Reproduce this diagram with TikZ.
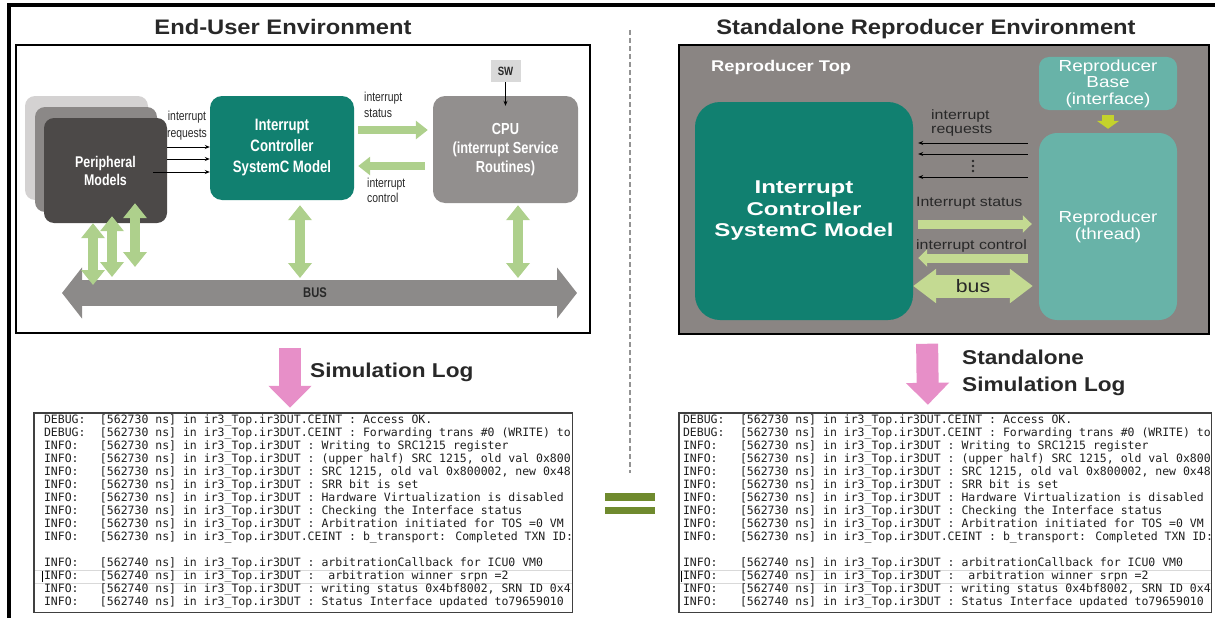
\documentclass[tikz,border=0pt]{standalone}
\usepackage{fontspec}
\setmainfont{Liberation Sans}
\newfontfamily\headfont[FakeStretch=1.13]{Liberation Sans}
\newfontfamily\condfont[FakeStretch=0.8]{Liberation Sans}
\newfontfamily\widefont[FakeStretch=1.18]{Liberation Sans}
\newfontfamily\modelfont[FakeStretch=1.3]{Liberation Sans}
\newfontfamily\logfont{DejaVu Sans Mono}
\usetikzlibrary{arrows.meta,calc}

\definecolor{icteal}{RGB}{17,128,112}
\definecolor{repteal}{RGB}{104,179,168}
\definecolor{toppanel}{RGB}{138,133,131}
\definecolor{cpugray}{RGB}{146,143,142}
\definecolor{perdark}{RGB}{76,73,72}
\definecolor{permid}{RGB}{139,136,135}
\definecolor{perlight}{RGB}{212,210,210}
\definecolor{swgray}{RGB}{217,217,217}
\definecolor{busgray}{RGB}{140,138,137}
\definecolor{leafgreen}{RGB}{174,208,140}
\definecolor{palegreen}{RGB}{196,218,146}
\definecolor{arrowlime}{RGB}{196,210,44}
\definecolor{logpink}{RGB}{231,143,200}
\definecolor{eqgreen}{RGB}{111,138,46}
\definecolor{inkgray}{RGB}{40,40,40}

\newlength\logtab
\newcommand\logline[2]{\makebox[\logtab][l]{#1}#2}
\newcommand\simlog{%
\logline{DEBUG:}{[562730 ns] in ir3\_Top.ir3DUT.CEINT : Access OK.}\\
\logline{DEBUG:}{[562730 ns] in ir3\_Top.ir3DUT.CEINT : Forwarding trans \#0 (WRITE) to}\\
\logline{INFO:}{[562730 ns] in ir3\_Top.ir3DUT : Writing to SRC1215 register}\\
\logline{INFO:}{[562730 ns] in ir3\_Top.ir3DUT : (upper half) SRC 1215, old val 0x800}\\
\logline{INFO:}{[562730 ns] in ir3\_Top.ir3DUT : SRC 1215, old val 0x800002, new 0x48}\\
\logline{INFO:}{[562730 ns] in ir3\_Top.ir3DUT : SRR bit is set}\\
\logline{INFO:}{[562730 ns] in ir3\_Top.ir3DUT : Hardware Virtualization is disabled}\\
\logline{INFO:}{[562730 ns] in ir3\_Top.ir3DUT : Checking the Interface status}\\
\logline{INFO:}{[562730 ns] in ir3\_Top.ir3DUT : Arbitration initiated for TOS =0 VM}\\
\logline{INFO:}{[562730 ns] in ir3\_Top.ir3DUT.CEINT : b\_transport: Completed TXN ID:}\\
\mbox{}\\
\logline{INFO:}{[562740 ns] in ir3\_Top.ir3DUT : arbitrationCallback for ICU0 VM0}\\
\logline{INFO:}{[562740 ns] in ir3\_Top.ir3DUT :\ \ arbitration winner srpn =2}\\
\logline{INFO:}{[562740 ns] in ir3\_Top.ir3DUT : writing status 0x4bf8002, SRN ID 0x4}\\
\logline{INFO:}{[562740 ns] in ir3\_Top.ir3DUT : Status Interface updated to79659010}}

\begin{document}
\begin{tikzpicture}[x=1pt, y=-1pt,
    every node/.style={inner sep=0pt},
    panel/.style={draw=black, line width=1.5pt},
    block/.style={rounded corners=#1, align=center, text=white},
    block/.default=11pt,
    title/.style={font=\headfont\bfseries\fontsize{21}{25}\selectfont, text=inkgray},
    req/.style={draw=black, line width=0.8pt, -{Stealth[length=5pt,width=4pt]}},
    flow/.style={draw=leafgreen, line width=8pt, -{Triangle[width=18pt,length=12pt]}},
    link/.style={draw=leafgreen, line width=10pt, {Triangle[width=23pt,length=15pt]}-{Triangle[width=23pt,length=15pt]}},
    busbar/.style={draw=busgray, line width=26pt, {Triangle[width=50pt,length=20pt]}-{Triangle[width=50pt,length=20pt]}},
    rflow/.style={draw=palegreen, line width=9pt, -{Triangle[width=17pt,length=9pt]}},
    rbus/.style={draw=palegreen, line width=23pt, {Triangle[width=33pt,length=23pt]}-{Triangle[width=33pt,length=23pt]}},
    drop/.style={draw=logpink, line width=22pt, -{Triangle[width=42pt,length=22pt]}},
    logframe/.style={draw=black!75, line width=1.4pt},
    logtext/.style={font=\logfont\fontsize{11.5}{13}\selectfont, align=left, text=black!88, anchor=north west},
  ]
\useasboundingbox (0,0) rectangle (1215,618);
\draw[line width=3.5pt] (7,5) -- (1215,5);
\draw[line width=4pt] (9,3.25) -- (9,618);
\draw[gray!85, line width=2pt, dash pattern=on 5pt off 3pt] (630,30) -- (630,473);

\node[title, anchor=base] at (283,35) {End-User Environment};
\node[title, anchor=base] at (926,35) {Standalone Reproducer Environment};

% end-user side
\node[panel, minimum width=574pt, minimum height=288pt] (leftpanel) at (303,189) {};
\node[block=10pt, fill=perlight, minimum width=123pt, minimum height=104pt] (periph3) at (86.5,148) {};
\node[block=10pt, fill=permid, minimum width=122pt, minimum height=105pt] (periph2) at (96,159.5) {};
\node[block=10pt, fill=perdark, minimum width=123pt, minimum height=105pt,
      font=\condfont\bfseries\fontsize{15.5}{18}\selectfont] (periph) at (105.5,170.5) {Peripheral\\Models};
\node[block=12pt, fill=icteal, minimum width=144pt, minimum height=104pt,
      font=\condfont\bfseries\fontsize{16.5}{21}\selectfont] (ic) at (282,148) {Interrupt\\Controller\\SystemC Model};
\node[block=12pt, fill=cpugray, minimum width=145pt, minimum height=107pt,
      font=\condfont\bfseries\fontsize{16}{19}\selectfont] (cpu) at (505.5,149.5) {CPU\\(interrupt Service\\Routines)};
\node[fill=swgray, minimum width=30pt, minimum height=22pt, text=inkgray,
      font=\condfont\bfseries\fontsize{12}{14}\selectfont] (sw) at (505.5,71) {SW};

\node[align=center, text=inkgray, font=\condfont\fontsize{13}{17}\selectfont] (reqlabel) at (187,126) {interrupt\\requests};
\node[anchor=west, align=left, text=inkgray, font=\condfont\fontsize{13}{16}\selectfont] (statuslabel) at (364,105) {interrupt\\status};
\node[anchor=west, align=left, text=inkgray, font=\condfont\fontsize{13}{15}\selectfont] (controllabel) at (367,190) {interrupt\\control};

\foreach \y/\s in {147/0,159/0,172/14}
  \draw[req] ($(periph.east |- 0,\y)+(-\s,0)$) -- (ic.west |- 0,\y);
\draw[flow, shorten <=4pt, shorten >=5pt] (ic.east |- 0,130) -- (cpu.west |- 0,130);
\draw[flow, shorten <=8pt, shorten >=4pt] (cpu.west |- 0,166) -- (ic.east |- 0,166);
\draw[req] (sw.south) -- ([yshift=-10pt]cpu.north);

\coordinate (busL) at (62,293);
\coordinate (busR) at (577,293);
\draw[busbar] (busL) -- (busR);
\node[text=inkgray, font=\condfont\bfseries\fontsize{14}{16}\selectfont] (buslabel) at (315,293) {BUS};

\draw[link, shorten <=5pt, shorten >=15pt] ($(ic.south)+(18,0)$) -- ($(ic.south |- busL)+(18,0)$);
\draw[link, shorten <=2pt, shorten >=15pt] ($(cpu.south)+(12.5,0)$) -- ($(cpu.south |- busL)+(12.5,0)$);
\foreach \dx/\up/\gap in {-12.5/0/8, 6.5/7/16, 29.5/20/26}
  \draw[link] ($(periph.south)+(\dx,-\up)$) -- ($(periph.south |- busL)+(\dx,-\gap)$);

% reproducer side
\node[panel, fill=toppanel, minimum width=530pt, minimum height=289pt] (rightpanel) at (944,189.5) {};
\node[anchor=west, text=white, font=\widefont\bfseries\fontsize{15.5}{18}\selectfont] (toplabel) at (711,67) {Reproducer Top};
\node[block=25pt, fill=icteal, minimum width=218pt, minimum height=218pt,
      font=\modelfont\bfseries\fontsize{18.5}{21.5}\selectfont] (ricm) at (804,211) {Interrupt\\Controller\\SystemC Model};
\node[block=10pt, fill=repteal, minimum width=138pt, minimum height=53pt,
      font=\widefont\fontsize{16}{16.5}\selectfont] (rbase) at (1108,83.5) {Reproducer\\Base\\(interface)};
\node[block=18pt, fill=repteal, minimum width=138pt, minimum height=187pt,
      font=\widefont\fontsize{16}{17}\selectfont] (rthread) at (1108,226.5) {Reproducer\\(thread)};
\draw[draw=arrowlime, line width=12pt, -{Triangle[width=22pt,length=8pt]}, shorten <=5pt, shorten >=4pt] (rbase) -- (rthread);

\node[anchor=west, align=left, text=inkgray, font=\widefont\fontsize{13.5}{14}\selectfont] (rreqlabel) at (931,123) {interrupt\\requests};
\foreach \y in {143,154,177}
  \draw[req, shorten <=11pt, shorten >=5pt] (rthread.west |- 0,\y) -- (ricm.east |- 0,\y);
\coordinate (rdots) at (973,166);
\foreach \d in {-5,0,5}
  \fill[inkgray] ($(rdots)+(0,\d)$) circle (1.3pt);
\node[anchor=west, text=inkgray, font=\widefont\fontsize{13.5}{14}\selectfont] (rstatuslabel) at (916,203) {Interrupt status};
\draw[rflow, shorten <=5pt, shorten >=7pt] (ricm.east |- 0,224) -- (rthread.west |- 0,224);
\node[anchor=west, text=inkgray, font=\widefont\fontsize{13.5}{14}\selectfont] (rcontrollabel) at (916,246) {interrupt control};
\draw[rflow, shorten <=11pt, shorten >=5pt] (rthread.west |- 0,258) -- (ricm.east |- 0,258);
\draw[rbus, shorten >=6pt] (ricm.east |- 0,286) -- (rthread.west |- 0,286);
\node[text=inkgray, font=\widefont\fontsize{18}{20}\selectfont] (rbuslabel) at (973,286) {bus};

% logs
\node[fill=white, minimum width=538pt, minimum height=199pt] (leftlog) at (303,512.5) {};
\node[fill=white, minimum width=532pt, minimum height=199pt] (rightlog) at (945,512.5) {};
\draw[drop, shorten <=14pt, shorten >=5pt] ($(leftpanel.south)+(-13,0)$) -- ($(leftlog.north)+(-13,0)$);
\draw[drop, shorten <=9pt, shorten >=8pt] ($(rightpanel.south)+(-17,0)$) -- ($(rightlog.north)+(-17,0)$);
\node[anchor=base west, text=inkgray, font=\headfont\bfseries\fontsize{20}{24}\selectfont] (simlabel) at (310,377) {Simulation Log};
\node[anchor=north west, align=left, text=inkgray, font=\headfont\bfseries\fontsize{20}{27}\selectfont] (replabel) at (962,350) {Standalone\\Simulation Log};

\begin{scope}
  \setlength\logtab{56pt}
  \clip (leftlog.north west) rectangle (leftlog.south east);
  \draw[gray!30, line width=0.6pt] (leftlog.west |- 0,570) -- (leftlog.east |- 0,570)
    (leftlog.west |- 0,583.5) -- (leftlog.east |- 0,583.5);
  \draw[line width=0.8pt] ($(leftlog.west |- 0,571)+(9,0)$) -- ($(leftlog.west |- 0,582)+(9,0)$);
  \node[logtext] (leftlogtext) at ($(leftlog.north west)+(10,2)$) {\simlog};
\end{scope}
\begin{scope}
  \setlength\logtab{57pt}
  \clip (rightlog.north west) rectangle (rightlog.south east);
  \draw[gray!30, line width=0.6pt] (rightlog.west |- 0,570) -- (rightlog.east |- 0,570)
    (rightlog.west |- 0,583.5) -- (rightlog.east |- 0,583.5);
  \draw[line width=0.8pt] ($(rightlog.west |- 0,571)+(3,0)$) -- ($(rightlog.west |- 0,582)+(3,0)$);
  \node[logtext] (rightlogtext) at ($(rightlog.north west)+(4,2)$) {\simlog};
\end{scope}
\draw[logframe] (leftlog.north west) rectangle (leftlog.south east);
\draw[logframe] (rightlog.north west) rectangle (rightlog.south east);

\fill[eqgreen] (605,493) rectangle (655,501);
\fill[eqgreen] (605,507) rectangle (655,514);
\end{tikzpicture}
\end{document}
